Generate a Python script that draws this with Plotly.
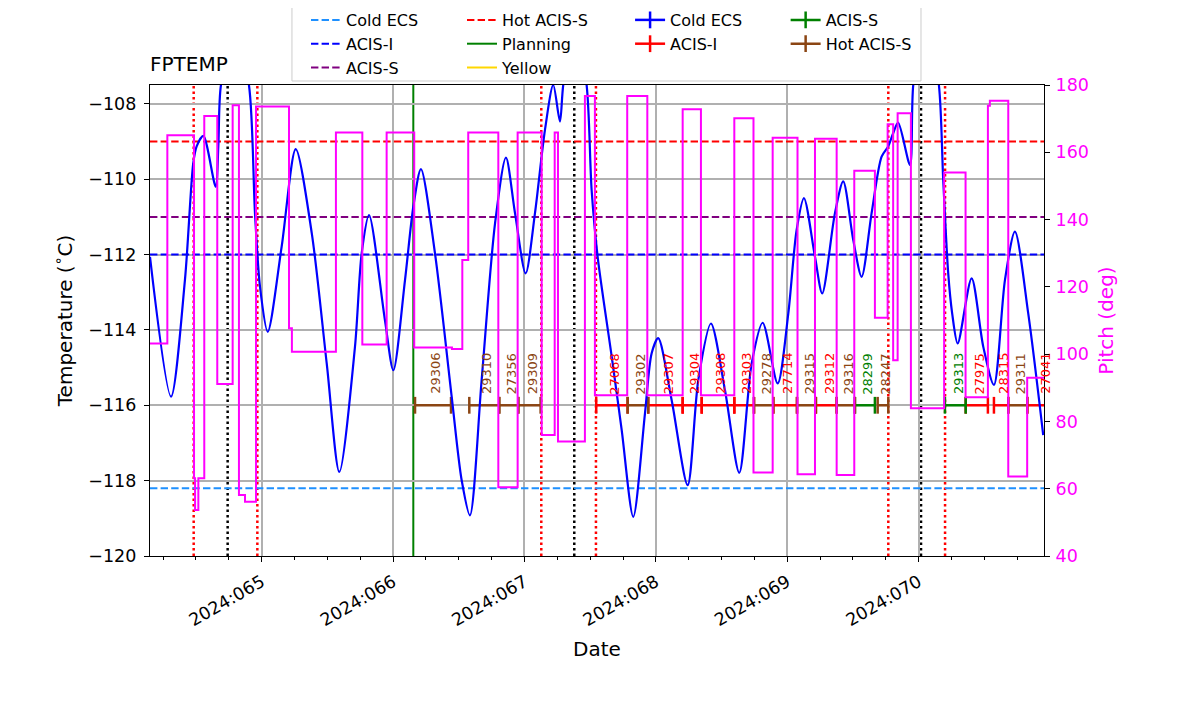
import numpy as np
import pandas as pd
import plotly.graph_objects as go

# FPTEMP model (deg C) vs day of year 2024
temp_doy = [64.150, 64.310, 64.416, 64.479, 64.505, 64.556, 64.650, 64.670, 64.690, 64.797,
            64.903, 64.949, 64.987, 65.046, 65.152, 65.259, 65.381, 65.495, 65.591, 65.710,
            65.761, 65.817, 65.938, 66.002, 66.091, 66.154, 66.212, 66.319, 66.446, 66.522,
            66.585, 66.674, 66.776, 66.859, 66.928, 67.009, 67.080, 67.156, 67.219, 67.270,
            67.295, 67.384, 67.473, 67.511, 67.557, 67.664, 67.740, 67.828, 67.917, 67.968,
            68.018, 68.120, 68.242, 68.323, 68.419, 68.526, 68.635, 68.729, 68.813, 68.927,
            69.008, 69.071, 69.127, 69.211, 69.266, 69.363, 69.426, 69.502, 69.566, 69.642,
            69.718, 69.768, 69.806, 69.844, 69.934, 69.959, 70.055, 70.154, 70.187, 70.225,
            70.255, 70.297, 70.403, 70.492, 70.573, 70.657, 70.733, 70.834, 70.948]
temp_val = [-112.06, -115.77, -112.67, -109.58, -109.13, -108.85, -110.20, -109.13, -107.5, -106.0,
            -107.5, -110.90, -112.85, -114.05, -111.79, -109.20, -111.43, -114.89, -117.77, -114.45,
            -111.97, -110.95, -113.74, -115.07, -112.67, -110.73, -109.73, -111.97, -115.77, -117.99,
            -118.92, -115.33, -111.17, -109.43, -110.90, -112.50, -110.90, -108.69, -107.5, -108.47,
            -107.5, -105.8, -107.5, -110.28, -112.06, -114.71, -116.66, -118.96, -116.22, -114.62,
            -114.22, -115.86, -118.12, -115.33, -113.83, -115.60, -117.79, -114.89, -113.81, -115.42,
            -113.56, -111.35, -110.50, -112.06, -113.03, -110.90, -110.06, -111.61, -112.59, -110.90,
            -109.40, -109.13, -108.78, -108.50, -109.62, -107.5, -105.5, -107.5, -110.02, -112.50,
            -113.56, -114.36, -112.63, -114.45, -115.46, -112.67, -111.39, -113.56, -116.79]

# pitch (deg), step changes
pitch_doy = [64.150, 64.282, 64.485, 64.493, 64.518, 64.563, 64.662, 64.779, 64.827, 64.873,
             64.957, 65.208, 65.230, 65.565, 65.766, 65.951, 66.161, 66.448, 66.527, 66.572,
             66.801, 66.948, 67.131, 67.230, 67.255, 67.460, 67.536, 67.782, 67.935, 68.204,
             68.343, 68.597, 68.743, 68.889, 69.078, 69.211, 69.376, 69.510, 69.667, 69.764,
             69.806, 69.840, 69.941, 70.194, 70.357, 70.527, 70.542, 70.682, 70.826, 70.954]
pitch_val = [103.2, 165.1, 63.1, 53.7, 63.1, 170.8, 91.1, 174.0, 58.1, 56.1,
             173.6, 107.7, 100.7, 165.9, 102.9, 165.9, 102.0, 101.5, 128.0, 165.9,
             60.4, 165.9, 76.0, 165.9, 74.0, 176.7, 87.8, 176.7, 87.8, 172.8,
             87.8, 170.1, 64.8, 164.3, 64.3, 164.0, 64.1, 154.5, 110.8, 168.3,
             98.2, 171.6, 83.9, 154.0, 87.2, 173.8, 175.3, 63.6, 93.0, 93.0]

# observations
obsids = ["29306", "29310", "27356", "29309", "27068", "29302", "29307", "29304", "29308", "29303",
          "29278", "27714", "29315", "29312", "29316", "28299", "28247", "29313", "27975", "28315",
          "29311", "27041"]
obs_mode = ["Hot ACIS-S", "Hot ACIS-S", "Hot ACIS-S", "Hot ACIS-S", "ACIS-I", "Hot ACIS-S", "ACIS-I",
            "ACIS-I", "ACIS-I", "ACIS-I", "Hot ACIS-S", "ACIS-I", "Hot ACIS-S", "ACIS-I", "Hot ACIS-S",
            "ACIS-S", "Hot ACIS-S", "ACIS-S", "ACIS-I", "ACIS-I", "Hot ACIS-S", "ACIS-I"]
obs_start = [66.167, 66.580, 66.808, 66.953, 67.546, 67.785, 67.942, 68.204, 68.349, 68.597,
             68.747, 68.894, 69.074, 69.218, 69.376, 69.515, 69.688, 70.200, 70.358, 70.573,
             70.682, 70.827]
obs_stop = [66.441, 66.808, 66.953, 67.123, 67.785, 67.942, 68.204, 68.349, 68.597, 68.747,
            68.894, 69.074, 69.218, 69.376, 69.515, 69.667, 69.769, 70.358, 70.527, 70.682,
            70.827, 71.066]
obs_level = -116.0

# limits
limit_names = ["Cold ECS", "ACIS-I", "ACIS-S", "Hot ACIS-S"]
limit_vals = [-118.2, -112.0, -111.0, -109.0]
limit_colors = ["dodgerblue", "blue", "purple", "red"]

radzone_doy = [64.4825, 64.967, 67.128, 67.544, 69.769, 70.201]
perigee_doy = [64.741, 67.379, 70.018]
now_doy = 66.154

xlim = [64.150, 70.954]

mode_colors = {"Cold ECS": "blue", "ACIS-I": "red", "ACIS-S": "green", "Hot ACIS-S": "#8B4513"}


def doy_to_date(doy):
    return pd.Timestamp("2024-01-01") + pd.to_timedelta(np.asarray(doy, dtype=float) - 1.0, unit="D")


def dstr(doy):
    return doy_to_date(doy).strftime("%Y-%m-%d %H:%M:%S")


fig = go.Figure()

dash_mpl = "7.4px,3.2px"

# limit lines (legend 1 & 2)
for name, val, col in zip(limit_names, limit_vals, limit_colors):
    fig.add_trace(go.Scatter(
        x=doy_to_date(xlim), y=[val, val], mode="lines", name=name,
        line=dict(color=col, width=2, dash=dash_mpl),
        legend="legend" if name != "Hot ACIS-S" else "legend2",
    ))
fig.add_trace(go.Scatter(x=[None], y=[None], mode="lines", name="Planning",
                         line=dict(color="green", width=2), legend="legend2"))
fig.add_trace(go.Scatter(x=[None], y=[None], mode="lines", name="Yellow",
                         line=dict(color="gold", width=2), legend="legend2"))

# obsid bars
for mode, leg in [("Cold ECS", "legend3"), ("ACIS-I", "legend3"),
                  ("ACIS-S", "legend4"), ("Hot ACIS-S", "legend4")]:
    xs, ys = [], []
    for s, e, m in zip(obs_start, obs_stop, obs_mode):
        if m == mode:
            xs += [dstr(s), dstr(e), None]
            ys += [obs_level, obs_level, None]
    if not xs:
        xs, ys = [None], [None]
    c = mode_colors[mode]
    fig.add_trace(go.Scatter(
        x=xs, y=ys, mode="lines+markers", name=mode, legend=leg,
        line=dict(color=c, width=2.5),
        marker=dict(symbol="line-ns", size=12, color=c, line=dict(width=2.5, color=c)),
    ))

# temperature model
fig.add_trace(go.Scatter(
    x=doy_to_date(temp_doy), y=temp_val, mode="lines", showlegend=False,
    line=dict(color="blue", width=2.2, shape="spline", smoothing=0.8),
))

# pitch on right axis
fig.add_trace(go.Scatter(
    x=doy_to_date(pitch_doy), y=pitch_val, mode="lines", showlegend=False, yaxis="y2",
    line=dict(color="magenta", width=2, shape="hv"),
))

# vertical markers
for d in radzone_doy:
    fig.add_shape(type="line", xref="x", yref="paper", x0=dstr(d), x1=dstr(d), y0=0, y1=1,
                  line=dict(color="red", width=2.5, dash="2.5px,3px"), layer="between")
for d in perigee_doy:
    fig.add_shape(type="line", xref="x", yref="paper", x0=dstr(d), x1=dstr(d), y0=0, y1=1,
                  line=dict(color="black", width=2.5, dash="2.5px,3px"), layer="between")
fig.add_shape(type="line", xref="x", yref="paper", x0=dstr(now_doy), x1=dstr(now_doy), y0=0, y1=1,
              line=dict(color="green", width=2), layer="between")

# obsid labels
for oid, s, e, m in zip(obsids, obs_start, obs_stop, obs_mode):
    fig.add_annotation(x=dstr(0.5 * (s + e)), y=obs_level, text=oid, showarrow=False,
                       textangle=-90, yanchor="bottom", xanchor="center", yshift=9, xshift=3,
                       font=dict(size=13, color=mode_colors[m]))

# legend frame
fig.add_shape(type="rect", xref="paper", yref="paper", x0=0.1588, x1=0.8624, y0=1.0085, y1=1.1656,
              line=dict(color="#cccccc", width=1), fillcolor="rgba(255,255,255,0.8)", layer="above")

leg_common = dict(orientation="v", yanchor="top", xanchor="left", y=1.1741,
                  bgcolor="rgba(0,0,0,0)", borderwidth=0, font=dict(size=16), tracegroupgap=0)

tick_font = dict(size=17.5)

fig.update_layout(
    width=1184, height=698,
    margin=dict(l=142, r=148, t=77, b=150, autoexpand=False),
    paper_bgcolor="white", plot_bgcolor="white",
    font=dict(family="DejaVu Sans", size=16.5, color="black"),
    title=dict(text="FPTEMP", x=0, xref="paper", xanchor="left", y=1 - 56 / 698,
               yref="container", yanchor="middle", font=dict(size=20)),
    legend=dict(x=0.1745, **leg_common),
    legend2=dict(x=0.349, **leg_common),
    legend3=dict(x=0.537, **leg_common),
    legend4=dict(x=0.711, **leg_common),
    xaxis=dict(
        type="date", range=[dstr(xlim[0]), dstr(xlim[1])],
        tickformat="%Y:%j", tick0=dstr(65), dtick=86400000, tickangle=-30,
        ticks="outside", ticklen=5, tickwidth=1, tickcolor="black", tickfont=tick_font,
        ticklabelstandoff=3,
        showgrid=True, gridcolor="#b0b0b0", gridwidth=1.5,
        showline=True, linecolor="black", linewidth=1.2, mirror=True,
        minor=dict(dtick=6 * 3600 * 1000, tick0=dstr(65), ticks="outside", ticklen=3,
                   tickcolor="black", showgrid=False),
        title=dict(text="Date", standoff=12), automargin=False, zeroline=False,
    ),
    yaxis=dict(
        range=[-120, -107.5], dtick=2, ticks="outside", ticklen=5, tickcolor="black",
        tickfont=tick_font, ticklabelstandoff=4,
        showgrid=True, gridcolor="#b0b0b0", gridwidth=1.5, zeroline=False,
        showline=True, linecolor="black", linewidth=1.2, mirror=True,
        title=dict(text="Temperature (<sup>∘</sup>C)", standoff=10), automargin=False,
    ),
    yaxis2=dict(
        overlaying="y", side="right", range=[40, 180], dtick=20,
        ticks="outside", ticklen=5, tickcolor="black", showgrid=False, zeroline=False,
        showline=True, linecolor="black", linewidth=1.2, ticklabelstandoff=2,
        tickfont=dict(size=17.5, color="magenta"),
        title=dict(text="Pitch (deg)", font=dict(color="magenta"), standoff=10), automargin=False,
    ),
)

fig.write_html("out.html")
